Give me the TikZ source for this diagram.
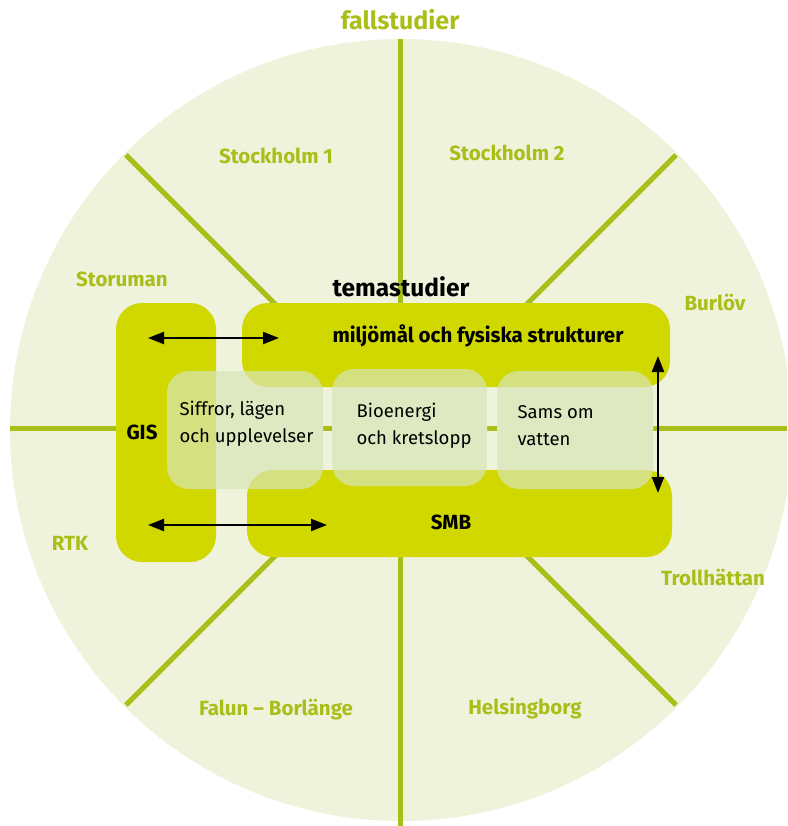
\documentclass[tikz,border=0pt]{standalone}
\usepackage{fontspec}
\setmainfont{Fira Sans}
\usetikzlibrary{arrows.meta}
\definecolor{ringbg}{RGB}{239,243,220}
\definecolor{spoke}{RGB}{170,190,25}
\definecolor{themebox}{RGB}{208,216,0}
\definecolor{casebox}{RGB}{216,230,184}
\tikzset{
    theme box/.style={
        rectangle, rounded corners=26pt, fill=themebox, inner sep=0pt
    },
    case box/.style={
        rectangle, rounded corners=22pt, fill=casebox, fill opacity=0.7,
        inner sep=0pt
    },
    case under/.style={
        rectangle, rounded corners=22pt, fill=ringbg, inner sep=0pt
    },
    case name/.style={
        text=spoke, font=\bfseries\fontsize{20.5}{24}\selectfont
    },
    theme name/.style={
        text=black, font=\bfseries\fontsize{20.5}{24}\selectfont
    },
    case text/.style={
        anchor=west, align=left, text=black,
        font=\fontsize{18.5}{27}\selectfont
    },
    link/.style={
        {Triangle[length=16pt,width=12pt]}-{Triangle[length=16pt,width=12pt]},
        line width=2.3pt, black
    }
}

\begin{document}
\begin{tikzpicture}[x=1pt, y=-1pt]
                \useasboundingbox (0,0) rectangle (787,826);
                \clip (0,0) rectangle (787,826);
                \coordinate (C) at (401,430);
                \fill[ringbg] (C) circle[radius=391pt];
                \foreach \a in {45,135,225,315}
                    \draw[spoke, line width=5pt] (C) -- ++(\a:389pt);
                \draw[spoke, line width=5pt] (400,39) -- (400,826);
                \draw[spoke, line width=5pt] (10,428) -- (787,428);

                \node[case name, font=\bfseries\fontsize{25}{30}\selectfont] (fall) at (400,20) {fallstudier};
                \node[case name] (sthlm1) at (276,156) {Stockholm 1};
                \node[case name] (sthlm2) at (507,153) {Stockholm 2};
                \node[case name] (storuman) at (122,279) {Storuman};
                \node[case name] (burlov) at (715,302) {Burlöv};
                \node[case name] (rtk) at (70,543) {RTK};
                \node[case name] (trollh) at (713,577) {Trollhättan};
                \node[case name] (falun) at (276,710) {Falun – Borlänge};
                \node[case name] (hbg) at (525,708) {Helsingborg};

                \node[case under, minimum width=156pt, minimum height=118pt] at (245,430) {};
                \node[case under, minimum width=155pt, minimum height=117pt] at (409.5,427.5) {};
                \node[case under, minimum width=156pt, minimum height=118pt] at (575,430) {};

                \node[theme box, minimum width=100pt, minimum height=259pt] (gis) at (166,432.5) {};
                \node[theme box, minimum width=428pt, minimum height=84pt] (miljo) at (456,345) {};
                \node[theme box, minimum width=425pt, minimum height=87pt] (smb) at (459.5,513.5) {};
                \node[case box, minimum width=156pt, minimum height=118pt] (siffror) at (245,430) {};
                \node[case box, minimum width=155pt, minimum height=117pt] (bio) at (409.5,427.5) {};
                \node[case box, minimum width=156pt, minimum height=118pt] (sams) at (575,430) {};

                \node[theme name, font=\bfseries\fontsize{24.5}{29}\selectfont] (tema) at (401,287) {temastudier};
                \node[theme name] (gisname) at (142,432) {GIS};
                \node[theme name] (miljoname) at (478,336) {miljömål och fysiska strukturer};
                \node[theme name] (smbname) at (451,522) {SMB};
                \node[case text] (siffrortext) at (176,424) {Siffror, lägen\\och upplevelser};
                \node[case text] (biotext) at (353,426) {Bioenergi\\och kretslopp};
                \node[case text] (samstext) at (514,426) {Sams om\\vatten};

                \coordinate (gis top) at (148,338);
                \coordinate (miljo left) at (279,338);
                \coordinate (gis bottom) at (148,525);
                \coordinate (smb left) at (327,525);
                \coordinate (miljo right) at (658,356);
                \coordinate (smb right) at (658,493);
                \draw[link] (gis top) -- (miljo left);
                \draw[link] (gis bottom) -- (smb left);
                \draw[link] (miljo right) -- (smb right);
            \end{tikzpicture}
\end{document}
